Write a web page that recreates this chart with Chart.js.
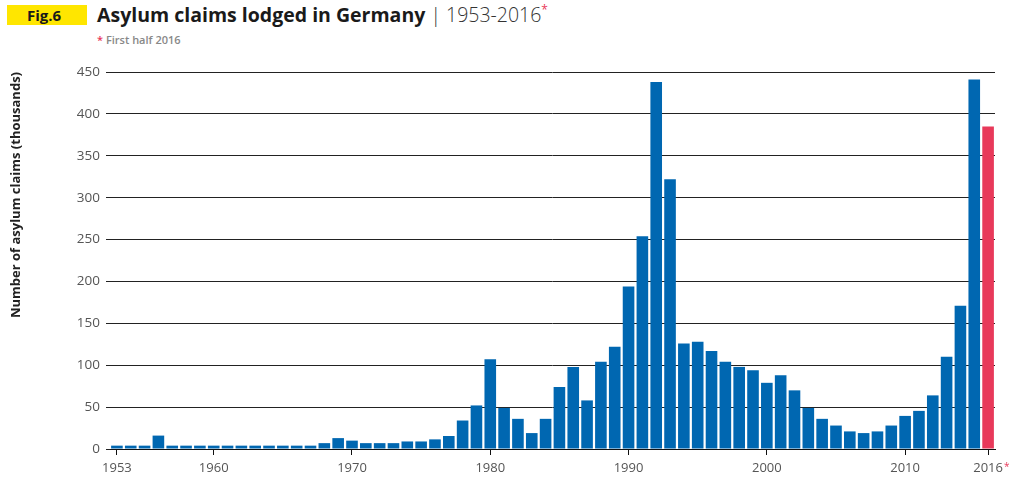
<!DOCTYPE html>
<html>
<head>
<meta charset="utf-8">
<script src="https://cdn.jsdelivr.net/npm/chart.js@4"></script>
<style>
  body { margin: 0; background: #fff; font-family: 'Open Sans', sans-serif; }
  #wrap { position: relative; width: 1010px; height: 480px; }
  #fig { position: absolute; left: 7px; top: 5px; width: 80px; height: 20px; background: #FFE600;
         font-weight: bold; font-size: 15px; line-height: 20px; color: #1a1a1a; text-indent: 20px; }
  #title { position: absolute; left: 97px; top: 1px; font-size: 19.5px; color: #1a1a1a; white-space: nowrap; }
  #title b { font-weight: 700; }
  #title span.yrs { font-weight: 300; color: #333; }
  .star { color: #E8395A; font-size: 12px; vertical-align: top; }
  #sub { position: absolute; left: 97px; top: 32px; font-size: 11px; font-weight: 600; color: #888; }
  canvas { position: absolute; left: 0; top: 0; }
</style>
</head>
<body>
<div id="wrap">
  <div id="fig">Fig.6</div>
  <div id="title"><b>Asylum claims lodged in Germany</b> <span class="yrs">| 1953-2016</span><span class="star">*</span></div>
  <div id="sub"><span class="star" style="font-size:11px;vertical-align:baseline">*</span> First half 2016</div>
  <canvas id="myChart" width="1010" height="480"></canvas>
</div>
<script>
const years = [];
for (let y = 1953; y <= 2016; y++) years.push(String(y));

// thousands of claims
const claims = [
  4, 4, 4, 16, 4, 4, 4, 4, 4, 4,          // 1953-1962
  4, 4, 4, 4, 4, 7, 13, 10, 7, 7,         // 1963-1972
  7, 9, 9, 11.5, 15.5, 34, 52, 107, 49, 36, // 1973-1982
  19, 36, 74, 98, 58, 104, 122, 194, 254, 438, // 1983-1992
  322, 126, 128, 117, 104, 98, 94, 79, 88, 70, // 1993-2002
  49, 36, 28, 21, 19, 21, 28, 39.5, 45.5, 64, // 2003-2012
  110, 171, 441, 385                       // 2013-2016
];
const shownYears = ['1953', '1960', '1970', '1980', '1990', '2000', '2010', '2016'];
const yTicks = [0, 50, 100, 150, 200, 250, 300, 350, 400, 450];

const blue = '#0067B1';
const red = '#E8395A';
const barColors = years.map(function(y) { return y === '2016' ? red : blue; });

// red asterisk after the 2016 tick label
const starPlugin = {
  id: 'star',
  afterDraw: function(chart) {
    const x = chart.scales.x;
    const c = chart.ctx;
    c.save();
    c.font = '13px "Open Sans"';
    const w = c.measureText('2016').width;
    const px = x.getPixelForValue(years.indexOf('2016'));
    c.fillStyle = red;
    c.font = '10px "Open Sans"';
    c.textBaseline = 'top';
    c.fillText('*', px + w / 2 + 1, x.top + 13);
    c.restore();
  }
};

const ctx = document.getElementById('myChart').getContext('2d');
const chart = new Chart(ctx, {
  type: 'bar',
  data: {
    labels: years,
    datasets: [{
      data: claims,
      backgroundColor: barColors,
      borderWidth: 0,
      categoryPercentage: 1,
      barPercentage: 0.84
    }]
  },
  options: {
    responsive: false,
    animation: false,
    layout: { padding: { left: 0, right: 15, top: 72, bottom: 0 } },
    plugins: { legend: { display: false }, tooltip: { enabled: false } },
    scales: {
      x: {
        afterFit: function(s) { s.height = 31; },
        grid: {
          offset: false,
          drawOnChartArea: false,
          drawTicks: true,
          tickLength: 6,
          color: function(c) {
            return c.tick && shownYears.indexOf(years[c.index]) >= 0 ? '#111' : 'rgba(0,0,0,0)';
          }
        },
        border: { display: true, color: '#111', width: 1 },
        ticks: {
          autoSkip: false,
          maxRotation: 0,
          padding: 5,
          color: '#555',
          font: { family: 'Open Sans', size: 13 },
          callback: function(v, i) {
            return shownYears.indexOf(years[i]) >= 0 ? years[i] : '';
          }
        }
      },
      y: {
        min: 0,
        max: 450,
        afterFit: function(s) { s.width = 110; },
        afterBuildTicks: function(s) {
          s.ticks = yTicks.map(function(v) { return { value: v }; });
        },
        grid: { color: '#222', lineWidth: 1, drawTicks: true, tickLength: 4 },
        border: { display: false },
        ticks: {
          padding: 6,
          color: '#555',
          font: { family: 'Open Sans', size: 13.5 }
        },
        title: {
          display: true,
          text: 'Number of asylum claims (thousands)',
          align: 'end',
          color: '#222',
          font: { family: 'Open Sans', size: 13, weight: 'bold' },
          padding: { top: 8, bottom: 0 }
        }
      }
    }
  },
  plugins: [starPlugin]
});
</script>
</body>
</html>
